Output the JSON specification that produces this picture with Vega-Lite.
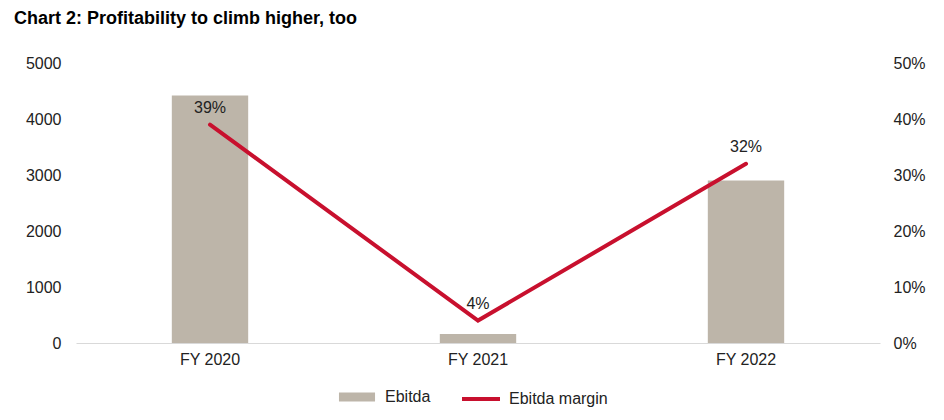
{
  "$schema": "https://vega.github.io/schema/vega-lite/v6.json",
  "autosize": "none",
  "width": 804,
  "height": 280,
  "padding": {"left": 76, "top": 63, "right": 64, "bottom": 77},
  "background": "white",
  "config": {
    "font": "Liberation Sans",
    "view": {"stroke": null},
    "axis": {"labelFont": "Liberation Sans", "labelFontSize": 16, "labelColor": "#222222", "grid": false, "ticks": false, "title": null},
    "legend": {"labelFont": "Liberation Sans", "labelFontSize": 16, "labelColor": "#222222"}
  },
  "title": {
    "text": "Chart 2: Profitability to climb higher, too",
    "anchor": "start",
    "frame": "group",
    "dx": -62,
    "offset": 27,
    "fontSize": 18,
    "fontWeight": "bold",
    "color": "#000000",
    "font": "Liberation Sans"
  },
  "data": {
    "values": [
      {"year": "FY 2020", "ebitda": 4420, "margin": 0.39, "s1": "Ebitda", "s2": "Ebitda margin"},
      {"year": "FY 2021", "ebitda": 160, "margin": 0.04, "s1": "Ebitda", "s2": "Ebitda margin"},
      {"year": "FY 2022", "ebitda": 2900, "margin": 0.32, "s1": "Ebitda", "s2": "Ebitda margin"}
    ]
  },
  "encoding": {
    "x": {
      "field": "year",
      "type": "nominal",
      "sort": null,
      "scale": {"paddingInner": 0, "paddingOuter": 0},
      "axis": {"labelAngle": 0, "domainColor": "#d9d9d9", "domainWidth": 1, "labelPadding": 8}
    }
  },
  "layer": [
    {
      "mark": {"type": "bar", "width": {"band": 0.285}},
      "encoding": {
        "y": {
          "field": "ebitda",
          "type": "quantitative",
          "scale": {"domain": [0, 5000]},
          "axis": {"orient": "left", "values": [0, 1000, 2000, 3000, 4000, 5000], "format": "d", "domain": false, "labelPadding": 15}
        },
        "fill": {
          "field": "s1",
          "type": "nominal",
          "scale": {"range": ["#BDB5A9"]},
          "legend": {"title": null, "orient": "none", "legendX": 262, "legendY": 315, "symbolType": "M-1,-0.25H1V0.25H-1Z", "symbolSize": 1300, "symbolOpacity": 1, "labelOffset": 9}
        }
      }
    },
    {
      "encoding": {
        "y": {
          "field": "margin",
          "type": "quantitative",
          "scale": {"domain": [0, 0.5]},
          "axis": {"orient": "right", "values": [0, 0.1, 0.2, 0.3, 0.4, 0.5], "format": ".0%", "domain": false, "labelPadding": 13}
        }
      },
      "layer": [
        {
          "mark": {"type": "line", "strokeWidth": 4, "strokeCap": "round"},
          "encoding": {
            "stroke": {
              "field": "s2",
              "type": "nominal",
              "scale": {"range": ["#C8102E"]},
              "legend": {"title": null, "orient": "none", "legendX": 384, "legendY": 315, "symbolType": "stroke", "symbolSize": 1444, "symbolStrokeWidth": 4, "labelOffset": 7}
            }
          }
        },
        {
          "mark": {"type": "text", "dy": -17, "fontSize": 16, "color": "#222222", "font": "Liberation Sans"},
          "encoding": {
            "text": {"field": "margin", "type": "quantitative", "format": ".0%"}
          }
        }
      ]
    }
  ],
  "resolve": {"scale": {"y": "independent", "fill": "independent", "stroke": "independent"}, "legend": {"fill": "independent", "stroke": "independent"}}
}
